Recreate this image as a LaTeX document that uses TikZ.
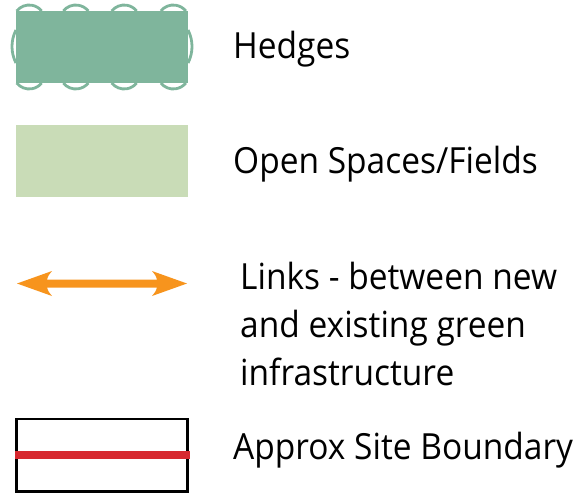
\documentclass[tikz,border=0pt]{standalone}
\usepackage{fontspec}
\setmainfont[FakeStretch=0.93]{Open Sans}
\definecolor{hedge}{HTML}{7FB59C}
\definecolor{field}{HTML}{C9DCB7}
\definecolor{link}{HTML}{F7941D}
\definecolor{bound}{HTML}{D7282F}
\tikzset{
  lbl/.style={anchor=base west, inner sep=0pt, font=\fontsize{36}{48}\selectfont, align=left},
  hedgeline/.style={draw=hedge, line width=2.8pt}
}
\begin{document}
\begin{tikzpicture}[x=1pt,y=-1pt]
\useasboundingbox (0,0) rectangle (582,495);
% Hedges
\foreach \cx in {29.2,75.8,124.2,173.3}{
  \draw[hedgeline] (\cx-12.5,11) arc[start angle=-141.3, end angle=-38.7, radius=16];
  \draw[hedgeline] (\cx-12.5,83) arc[start angle=141.3, end angle=38.7, radius=16];
}
\draw[hedgeline] (16,30) arc[start angle=207.3, end angle=152.7, radius=36];
\draw[hedgeline] (188,30) arc[start angle=-27.3, end angle=27.3, radius=36];
\fill[hedge] (16,11) rectangle (188,83);
\node[lbl] (hedges) at (233,59) {Hedges};
% Open spaces
\fill[field] (16,125) rectangle (188,197);
\node[lbl] (open) at (233,173) {Open Spaces/Fields};
% Links arrow
\fill[link] (17,283.5) -- (52,271) .. controls (48,276) .. (47,279.5) -- (157,279.5) .. controls (156,276) .. (152,271) -- (187,283.5) -- (152,296) .. controls (156,291) .. (157,287.5) -- (47,287.5) .. controls (48,291) .. (52,296) -- cycle;
\node[lbl] (links) at (240,385) {Links - between new\\and existing green\\infrastructure};
% Boundary
\draw[black, line width=2.7pt] (16.3,419) rectangle (187.4,491.3);
\draw[bound, line width=7.5pt] (15,455.2) -- (190,455.2);
\node[lbl] (site) at (233,459) {Approx Site Boundary};
\end{tikzpicture}
\end{document}
